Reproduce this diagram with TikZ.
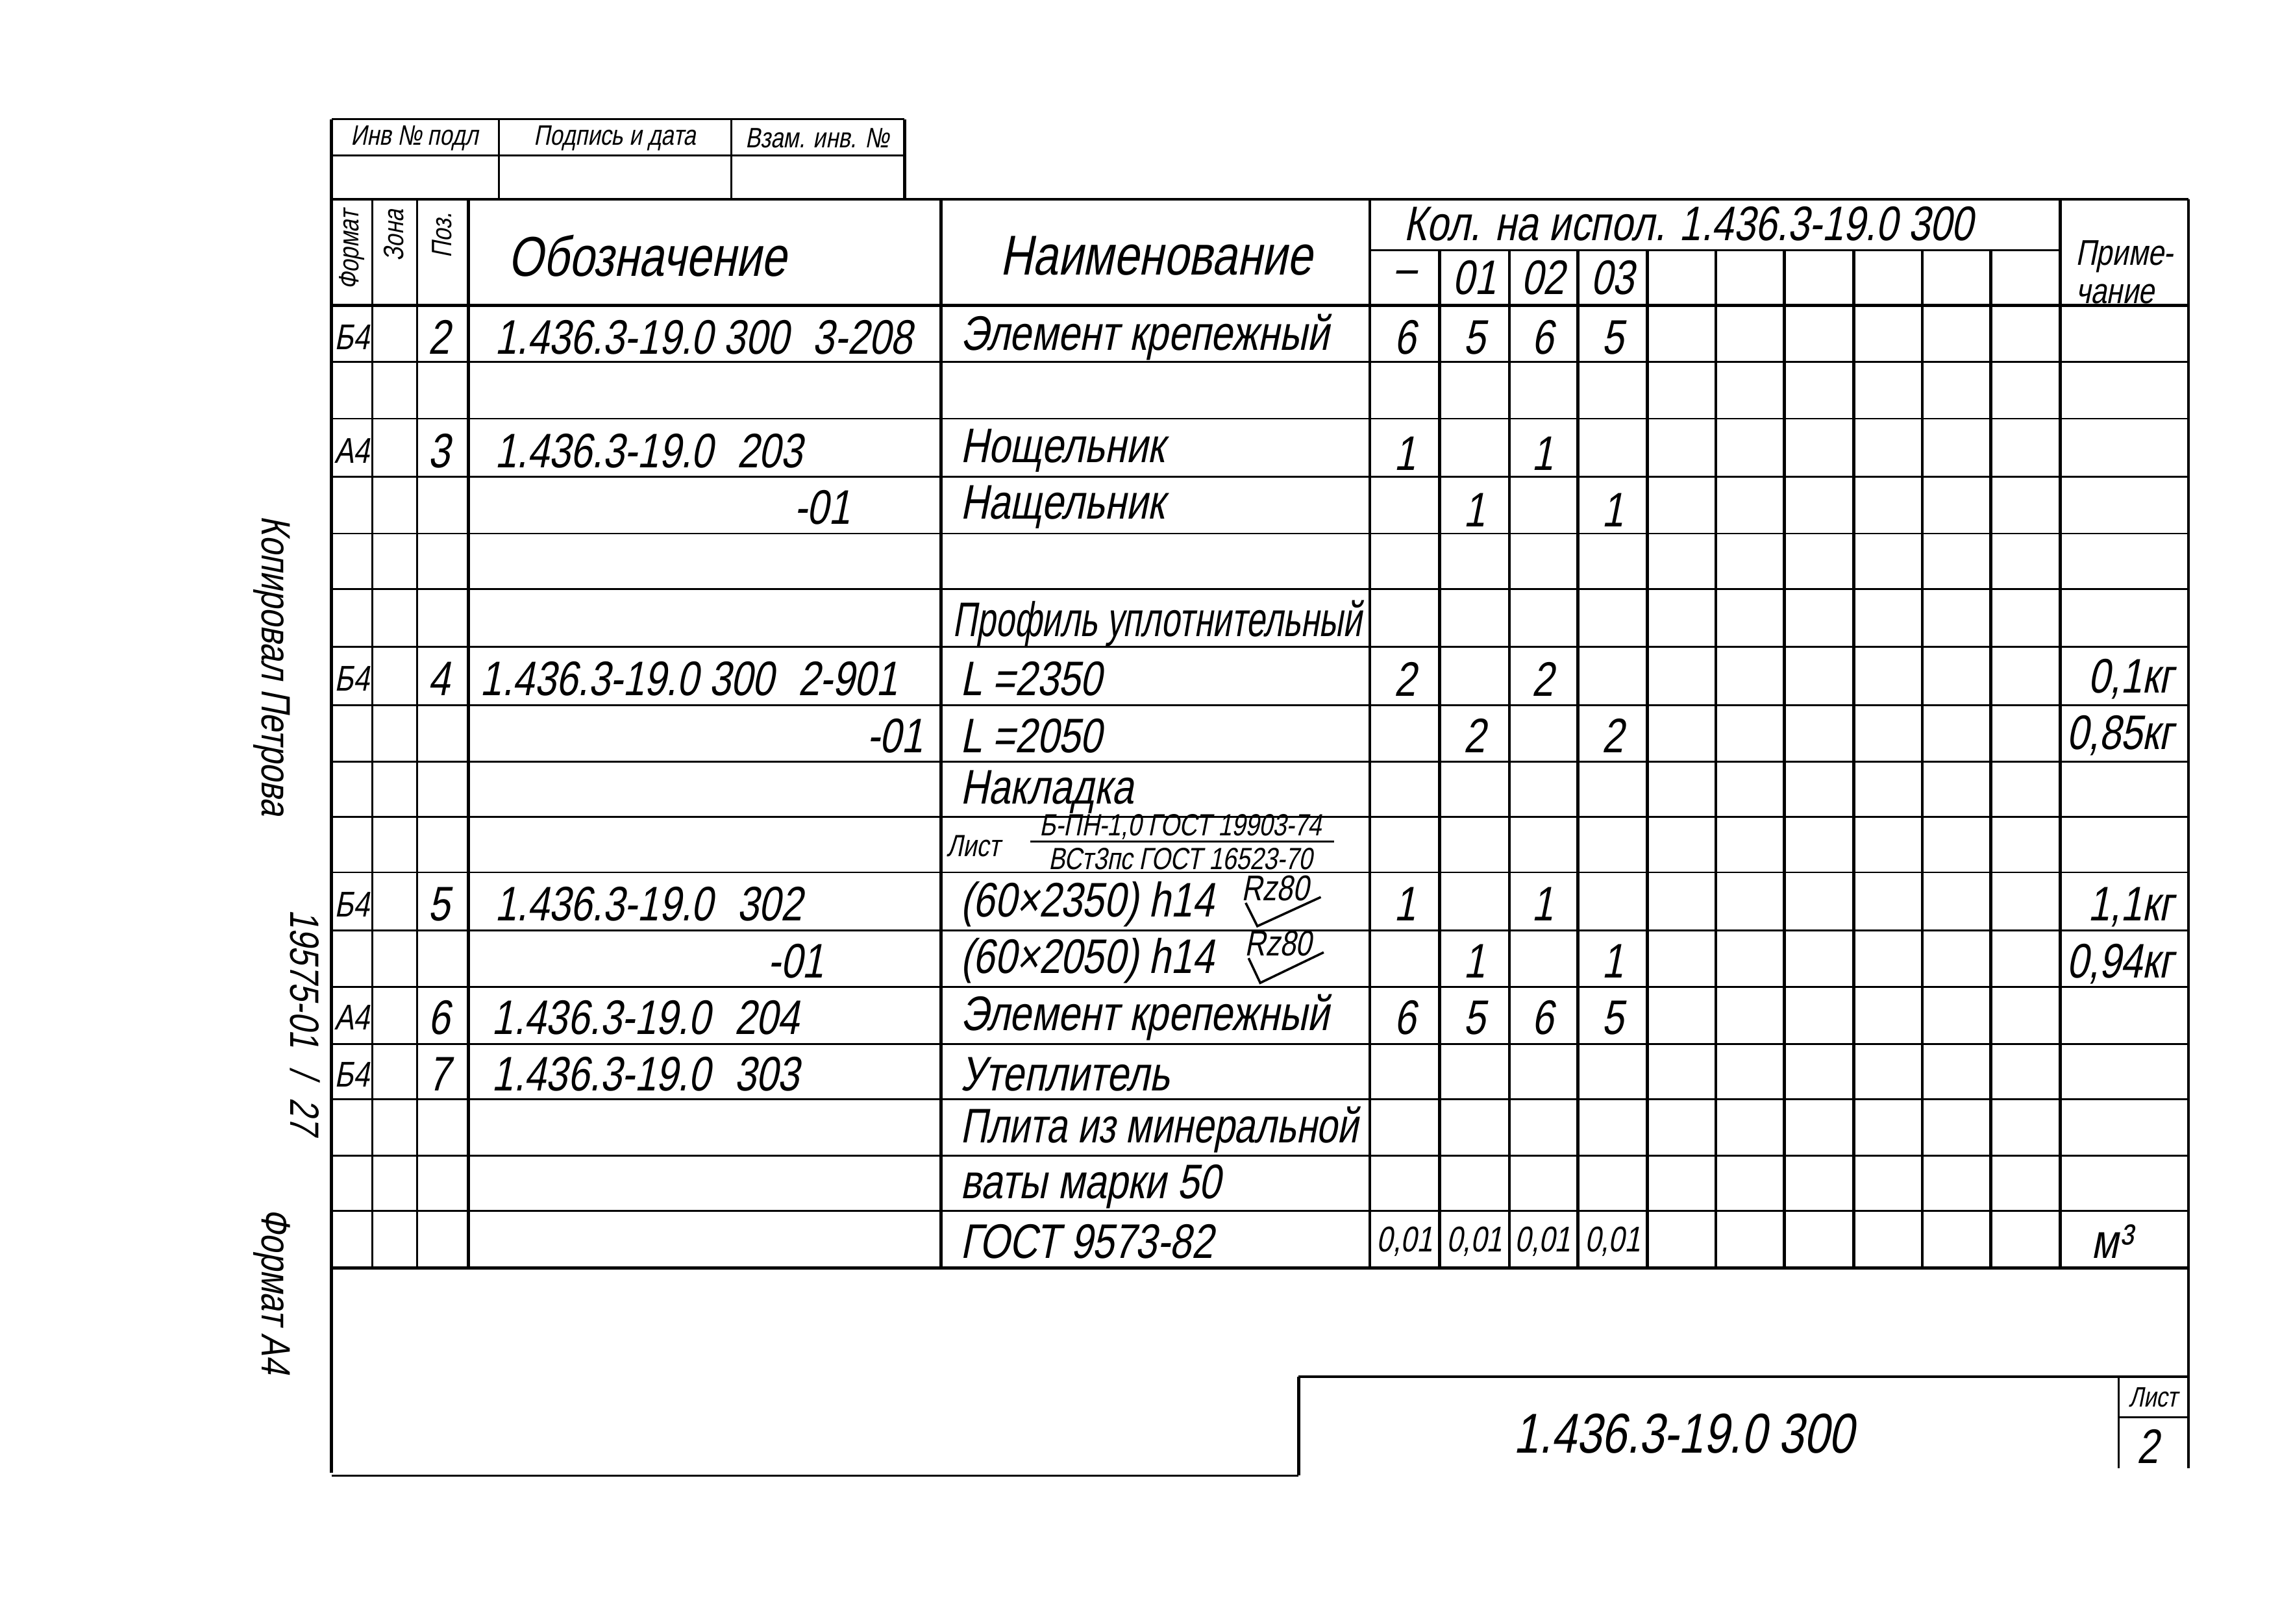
\documentclass[tikz,border=0pt]{standalone}
\usepackage{fontspec}
\usepackage{graphicx}
\setmainfont{Liberation Sans}[FakeStretch=0.8,FakeSlant=0.2]
\usetikzlibrary{calc}
\begin{document}
\begin{tikzpicture}[x=0.02cm,y=-0.02cm,
  thk/.style={line width=1.2pt},
  thn/.style={line width=0.7pt},
  tb/.style={inner sep=0pt, font=\fontsize{19}{20}\selectfont},
  th/.style={inner sep=0pt, font=\fontsize{22}{24}\selectfont},
  ts/.style={inner sep=0pt, font=\fontsize{14}{15}\selectfont},
  tx/.style={inner sep=0pt, font=\fontsize{11}{12}\selectfont},
  tf/.style={inner sep=0pt, font=\fontsize{12}{13}\selectfont},
  trz/.style={inner sep=0pt, font=\fontsize{14}{15}\selectfont},
  tside/.style={inner sep=0pt, font=\fontsize{16}{17}\selectfont, rotate=-90},
]
\useasboundingbox (0,0) rectangle (1568,1117);

% ---------- frame and stamp ----------
\draw[thk] (228,82) -- (228,1013);
\draw[thn] (228,82) -- (622,82);
\draw[thn] (228,107) -- (622,107);
\draw[thn] (343,82) -- (343,137);
\draw[thn] (503,82) -- (503,137);
\draw[thk] (622,82) -- (622,137);

% ---------- table outline ----------
\draw[thk] (228,137) -- (1505,137);
\draw[thk] (228,210) -- (1505,210);
\draw[thk] (1505,137) -- (1505,1010);
\foreach \x/\w in {256/thn,287/thn,322/thk,647/thk,942/thk,1417/thk}
  \draw[\w] (\x,137) -- (\x,872);
\draw[thn] (942,172) -- (1417,172);
\foreach \x in {990,1038,1085,1133,1180,1227,1275,1322,1369}
  \draw[thk] (\x,172) -- (\x,872);
\foreach \y in {249,288,328,367,405,445,485,524,562,600,640,679,718,756,795,833}
  \draw[thn] (228,\y) -- (1505,\y);
\draw[thk] (228,872) -- (1505,872);

% ---------- title block ----------
\draw[thk] (893,947) -- (1505,947);
\draw[thk] (893,947) -- (893,1015);
\draw[thn] (228,1015) -- (893,1015);
\draw[thn] (1457,947) -- (1457,1010);
\draw[thn] (1457,975) -- (1505,975);

% ---------- stamp texts ----------
\node[tx] (s1) at (285,95) {Инв № подл};
\node[tx] (s2) at (423,95) {Подпись и дата};
\node[tx] (s3) at (562,95) {Взам. инв. №};

% ---------- header ----------
\node[tx,rotate=90] (hf) at (242,172) {Формат};
\node[tx,rotate=90] (hz) at (271,162) {Зона};
\node[tx,rotate=90] (hp) at (304,162) {Поз.};
\node[th] (ho) at (445,176) {Обозначение};
\node[th] (hn) at (795,176) {Наименование};
\node[tb,anchor=west] (hk) at (965,154) {Кол. на испол. 1.436.3-19.0 300};
\node[tb] (hq0) at (966,191) {–};
\node[tb] (hq1) at (1014,191) {01};
\node[tb] (hq2) at (1061,191) {02};
\node[tb] (hq3) at (1109,191) {03};
\node[ts,align=left] (hpr) at (1461,187) {Приме-\\чание};

% ---------- format column ----------
\node[ts] (f1) at (242,232) {Б4};
\node[ts] (f3) at (242,310) {А4};
\node[ts] (f7) at (242,467) {Б4};
\node[ts] (f11) at (242,622) {Б4};
\node[ts] (f13) at (242,700) {А4};
\node[ts] (f14) at (242,739) {Б4};

% ---------- position column ----------
\node[tb] (p1) at (302,232) {2};
\node[tb] (p3) at (302,310) {3};
\node[tb] (p7) at (302,467) {4};
\node[tb] (p11) at (302,622) {5};
\node[tb] (p13) at (302,700) {6};
\node[tb] (p14) at (302,739) {7};

% ---------- designation column ----------
\node[tb,anchor=west] (d1) at (340,232) {1.436.3-19.0 300\enspace 3-208};
\node[tb,anchor=west] (d3) at (340,310) {1.436.3-19.0\enspace 203};
\node[tb,anchor=east] (d4) at (585,349) {-01};
\node[tb,anchor=west] (d7) at (330,467) {1.436.3-19.0 300\enspace 2-901};
\node[tb,anchor=east] (d8) at (635,506) {-01};
\node[tb,anchor=west] (d11) at (340,622) {1.436.3-19.0\enspace 302};
\node[tb,anchor=east] (d12) at (567,661) {-01};
\node[tb,anchor=west] (d13) at (338,700) {1.436.3-19.0\enspace 204};
\node[tb,anchor=west] (d14) at (338,739) {1.436.3-19.0\enspace 303};

% ---------- name column ----------
\node[tb,anchor=west] (n1) at (660,232) {Элемент крепежный};
\node[tb,anchor=west] (n3) at (660,310) {Нощельник};
\node[tb,anchor=west] (n4) at (660,349) {Нащельник};
\node[tb,anchor=west] (n6) at (655,429) {\scalebox{0.86}[1]{Профиль уплотнительный}};
\node[tb,anchor=west] (n7) at (660,467) {L =2350};
\node[tb,anchor=west] (n8) at (660,506) {L =2050};
\node[tb,anchor=west] (n9) at (660,545) {Накладка};
\node[tf,anchor=west] (n10) at (651,582) {Лист};
\node[tf,anchor=south] (n10a) at (812,578) {Б-ПН-1,0 ГОСТ 19903-74};
\node[tf,anchor=north] (n10b) at (812,583) {ВСт3пс ГОСТ 16523-70};
\draw[thn] (n10a.south west) ++(-6,1) -- ($(n10a.south east)+(8,1)$);
\node[tb,anchor=west] (n11) at (660,622) {(60×2350) h14};
\node[trz] (rz11) at (877,611) {Rz80};
\draw[line width=0.9pt] ($(rz11.south west)+(3,1)$) -- ++(8,16) -- ($(rz11.south east)+(8,-3)$);
\node[tb,anchor=west] (n12) at (660,661) {(60×2050) h14};
\node[trz] (rz12) at (879,649) {Rz80};
\draw[line width=0.9pt] ($(rz12.south west)+(3,1)$) -- ++(8,17) -- ($(rz12.south east)+(8,-3)$);
\node[tb,anchor=west] (n13) at (660,700) {Элемент крепежный};
\node[tb,anchor=west] (n14) at (660,739) {Утеплитель};
\node[tb,anchor=west] (n15) at (660,777) {\scalebox{0.96}[1]{Плита из минеральной}};
\node[tb,anchor=west] (n16) at (660,816) {ваты марки 50};
\node[tb,anchor=west] (n17) at (660,854) {ГОСТ 9573-82};

% ---------- quantities ----------
\node[tb] (q1a) at (966,232) {6};
\node[tb] (q1b) at (1014,232) {5};
\node[tb] (q1c) at (1061,232) {6};
\node[tb] (q1d) at (1109,232) {5};
\node[tb] (q3a) at (966,312) {1};
\node[tb] (q3c) at (1061,312) {1};
\node[tb] (q4b) at (1014,351) {1};
\node[tb] (q4d) at (1109,351) {1};
\node[tb] (q7a) at (966,467) {2};
\node[tb] (q7c) at (1061,467) {2};
\node[tb] (q8b) at (1014,506) {2};
\node[tb] (q8d) at (1109,506) {2};
\node[tb] (q11a) at (966,622) {1};
\node[tb] (q11c) at (1061,622) {1};
\node[tb] (q12b) at (1014,661) {1};
\node[tb] (q12d) at (1109,661) {1};
\node[tb] (q13a) at (966,700) {6};
\node[tb] (q13b) at (1014,700) {5};
\node[tb] (q13c) at (1061,700) {6};
\node[tb] (q13d) at (1109,700) {5};
\node[ts] (q17a) at (966,854) {0,01};
\node[ts] (q17b) at (1014,854) {0,01};
\node[ts] (q17c) at (1061,854) {0,01};
\node[ts] (q17d) at (1109,854) {0,01};

% ---------- notes ----------
\node[tb,anchor=east] (m7) at (1495,467) {0,1кг};
\node[tb,anchor=east] (m8) at (1495,506) {0,85кг};
\node[tb,anchor=east] (m11) at (1495,624) {1,1кг};
\node[tb,anchor=east] (m12) at (1495,663) {0,94кг};
\node[tb] (m17) at (1452,854) {м³};

% ---------- title block texts ----------
\node[th] (tt) at (1158,986) {1.436.3-19.0 300};
\node[tx] (tl) at (1481,961) {Лист};
\node[tb] (tn) at (1477,995) {2};

% ---------- side texts ----------
\node[tside] (k1) at (187,458) {Копировал Петрова};
\node[tside] (k2) at (210,703) {19575-01\enspace /\enspace 27};
\node[tside] (k3) at (187,888) {Формат А4};
\end{tikzpicture}
\end{document}
